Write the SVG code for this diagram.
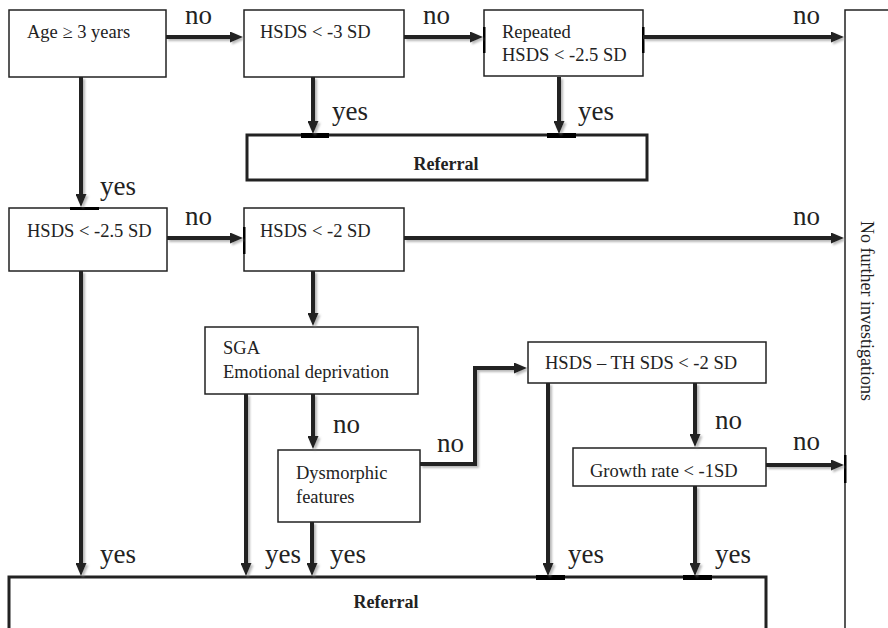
<svg xmlns="http://www.w3.org/2000/svg" width="888" height="628" viewBox="0 0 888 628">
<style>
.box{fill:#fff;stroke:#222;stroke-width:1.5}
.ref{fill:#fff;stroke:#222;stroke-width:3}
.t{font-family:"Liberation Serif","Times New Roman",serif;font-size:18.5px;fill:#222}
.tv{font-family:"Liberation Serif","Times New Roman",serif;font-size:18px;fill:#222}
.tb{font-family:"Liberation Serif","Times New Roman",serif;font-size:18px;font-weight:bold;fill:#222}
.lbl{font-family:"Liberation Serif","Times New Roman",serif;font-size:27px;fill:#222}
.c{fill:none;stroke:#222;stroke-width:4;marker-end:url(#ah)}
.bar{fill:#000}
</style>
<defs>
<marker id="ah" viewBox="0 0 13 11" refX="1" refY="5.5" markerWidth="13" markerHeight="11" markerUnits="userSpaceOnUse" orient="auto">
<path d="M0,0 L13,5.5 L0,11 z" fill="#222"/>
</marker>
<filter id="sh" x="-20%" y="-20%" width="140%" height="140%">
<feDropShadow dx="2" dy="2" stdDeviation="1.2" flood-color="#888" flood-opacity="0.6"/>
</filter>
</defs>
<rect width="888" height="628" fill="#fff"/>

<g id="panel">
<path d="M890,10 L845,10 L845,630" fill="none" stroke="#222" stroke-width="1.5"/>
<rect class="bar" x="844" y="455" width="2.5" height="28"/>
<text class="tv" transform="translate(861,311) rotate(90)" text-anchor="middle">No further investigations</text>
</g>

<g id="n-age">
<rect class="box" x="9" y="10" width="157" height="67"/>
<text class="t" x="27" y="38">Age ≥ 3 years</text>
</g>
<g id="n-hsds3">
<rect class="box" x="244" y="10" width="160" height="67"/>
<text class="t" x="260" y="38">HSDS &lt; -3 SD</text>
</g>
<g id="n-repeated">
<rect class="box" x="484" y="10" width="159" height="66"/>
<rect class="bar" x="483" y="27" width="2.5" height="26"/>
<rect class="bar" x="642" y="27" width="2.5" height="26"/>
<text class="t" x="502" y="38">Repeated</text>
<text class="t" x="502" y="61">HSDS &lt; -2.5 SD</text>
</g>
<g id="n-referral1">
<rect class="ref" x="247" y="135" width="400" height="45"/>
<rect class="bar" x="301" y="133" width="28" height="5"/>
<rect class="bar" x="547" y="133" width="29" height="5"/>
<text class="tb" x="446" y="170" text-anchor="middle">Referral</text>
</g>
<g id="n-hsds25">
<rect class="box" x="9" y="208" width="158" height="63"/>
<rect class="bar" x="70" y="207" width="29" height="3"/>
<text class="t" x="27" y="237">HSDS &lt; -2.5 SD</text>
</g>
<g id="n-hsds2">
<rect class="box" x="244" y="208" width="160" height="63"/>
<rect class="bar" x="243" y="227" width="2.5" height="27"/>
<text class="t" x="260" y="237">HSDS &lt; -2 SD</text>
</g>
<g id="n-sga">
<rect class="box" x="205" y="327" width="213" height="67"/>
<text class="t" x="223" y="354">SGA</text>
<text class="t" x="223" y="378">Emotional deprivation</text>
</g>
<g id="n-dysm">
<rect class="box" x="278" y="450" width="142" height="72"/>
<text class="t" x="296" y="479">Dysmorphic</text>
<text class="t" x="296" y="503">features</text>
</g>
<g id="n-hsdsth">
<rect class="box" x="528" y="342" width="238" height="41"/>
<text class="t" x="545" y="369">HSDS – TH SDS &lt; -2 SD</text>
</g>
<g id="n-growth">
<rect class="box" x="573" y="448" width="193" height="38"/>
<text class="t" x="590" y="477">Growth rate &lt; -1SD</text>
</g>
<g id="n-referral2">
<path class="ref" d="M9,632 L9,577 L766,577 L766,632"/>
<rect class="bar" x="536" y="575" width="29" height="5"/>
<rect class="bar" x="683" y="575" width="29" height="5"/>
<text class="tb" x="386" y="608" text-anchor="middle">Referral</text>
</g>

<g id="connectors" filter="url(#sh)">
<path class="c" d="M166,37 H231"/>
<path class="c" d="M404,37 H471"/>
<path class="c" d="M643,37 H832"/>
<path class="c" d="M81,77 V195"/>
<path class="c" d="M313,77 V122"/>
<path class="c" d="M559,77 V122"/>
<path class="c" d="M167,238 H231"/>
<path class="c" d="M404,238 H832"/>
<path class="c" d="M81,271 V564"/>
<path class="c" d="M313,271 V314"/>
<path class="c" d="M246,394 V564"/>
<path class="c" d="M313,394 V437"/>
<path class="c" d="M420,464 H475 V368 H515"/>
<path class="c" d="M312,522 V564"/>
<path class="c" d="M548,383 V564"/>
<path class="c" d="M695,383 V435"/>
<path class="c" d="M766,465 H832"/>
<path class="c" d="M695,486 V564"/>
</g>

<g id="labels">
<text class="lbl" x="185" y="24">no</text>
<text class="lbl" x="423" y="24">no</text>
<text class="lbl" x="793" y="24">no</text>
<text class="lbl" x="100" y="195">yes</text>
<text class="lbl" x="332" y="120">yes</text>
<text class="lbl" x="578" y="120">yes</text>
<text class="lbl" x="185" y="225">no</text>
<text class="lbl" x="793" y="225">no</text>
<text class="lbl" x="333" y="433">no</text>
<text class="lbl" x="437" y="452">no</text>
<text class="lbl" x="715" y="429">no</text>
<text class="lbl" x="793" y="450">no</text>
<text class="lbl" x="100" y="563">yes</text>
<text class="lbl" x="265" y="563">yes</text>
<text class="lbl" x="330" y="563">yes</text>
<text class="lbl" x="568" y="563">yes</text>
<text class="lbl" x="715" y="563">yes</text>
</g>
</svg>
